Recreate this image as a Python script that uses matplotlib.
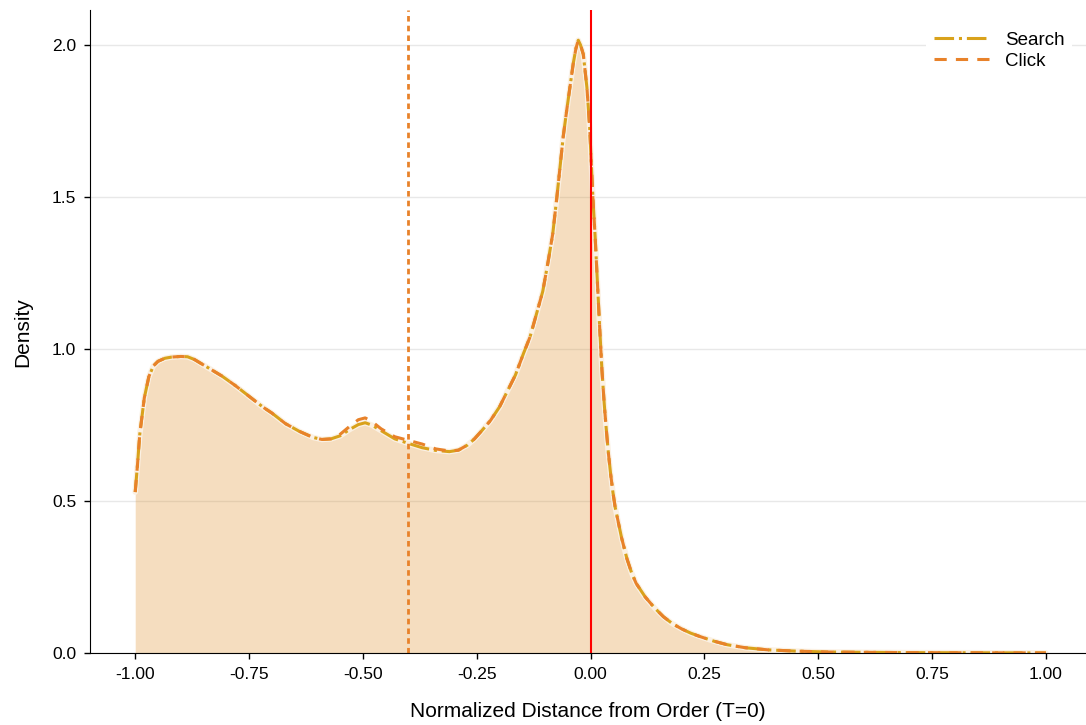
import numpy as np
import matplotlib.pyplot as plt

plt.rcParams['font.family'] = ['Liberation Sans', 'DejaVu Sans']

# normalized distance grid
dist = [-1.00, -0.995, -0.99, -0.98, -0.97, -0.96, -0.95, -0.935, -0.92, -0.90,
        -0.885, -0.87, -0.85, -0.83, -0.81, -0.78, -0.75, -0.72, -0.70, -0.67,
        -0.64, -0.61, -0.59, -0.57, -0.55, -0.53, -0.51, -0.495, -0.48, -0.46,
        -0.43, -0.40, -0.37, -0.34, -0.31, -0.29, -0.27, -0.255, -0.24, -0.22,
        -0.20, -0.185, -0.165, -0.147, -0.133, -0.118, -0.105, -0.093, -0.083, -0.074,
        -0.067, -0.060, -0.052, -0.045, -0.038, -0.032, -0.027, -0.022, -0.016, -0.008,
        -0.002, 0.005, 0.010, 0.015, 0.020, 0.025, 0.030, 0.034, 0.039, 0.044,
        0.049, 0.054, 0.061, 0.068, 0.08, 0.09, 0.10, 0.12, 0.14, 0.16,
        0.18, 0.20, 0.22, 0.24, 0.27, 0.30, 0.34, 0.39, 0.45, 0.52,
        0.60, 0.70, 0.85, 1.00]

search_density = [0.53, 0.62, 0.72, 0.84, 0.91, 0.945, 0.96, 0.97, 0.974, 0.976,
                  0.975, 0.966, 0.948, 0.93, 0.912, 0.88, 0.845, 0.81, 0.79, 0.755,
                  0.73, 0.71, 0.703, 0.705, 0.715, 0.735, 0.752, 0.758, 0.75, 0.732,
                  0.705, 0.69, 0.676, 0.667, 0.663, 0.668, 0.685, 0.705, 0.73, 0.765,
                  0.81, 0.855, 0.915, 0.987, 1.04, 1.12, 1.19, 1.29, 1.38, 1.50,
                  1.60, 1.70, 1.79, 1.865, 1.94, 1.99, 2.016, 2.00, 1.97, 1.86,
                  1.73, 1.50, 1.37, 1.22, 1.07, 0.93, 0.82, 0.745, 0.66, 0.59,
                  0.53, 0.48, 0.43, 0.38, 0.31, 0.265, 0.23, 0.185, 0.15, 0.12,
                  0.097, 0.08, 0.066, 0.055, 0.04, 0.028, 0.018, 0.011, 0.007, 0.004,
                  0.003, 0.002, 0.0015, 0.001]

click_density = [0.53, 0.62, 0.72, 0.84, 0.91, 0.945, 0.96, 0.97, 0.974, 0.976,
                 0.975, 0.966, 0.948, 0.93, 0.912, 0.88, 0.845, 0.81, 0.79, 0.755,
                 0.73, 0.71, 0.703, 0.705, 0.72, 0.745, 0.768, 0.774, 0.762, 0.738,
                 0.712, 0.70, 0.688, 0.672, 0.665, 0.668, 0.685, 0.705, 0.73, 0.765,
                 0.81, 0.855, 0.915, 0.987, 1.04, 1.12, 1.19, 1.29, 1.38, 1.50,
                 1.60, 1.70, 1.79, 1.865, 1.94, 1.99, 2.016, 2.00, 1.97, 1.86,
                 1.73, 1.50, 1.37, 1.22, 1.07, 0.93, 0.82, 0.745, 0.66, 0.59,
                 0.53, 0.48, 0.43, 0.38, 0.31, 0.265, 0.23, 0.185, 0.15, 0.12,
                 0.097, 0.08, 0.066, 0.055, 0.04, 0.028, 0.018, 0.011, 0.007, 0.004,
                 0.003, 0.002, 0.0015, 0.001]

search_mean = -0.40
order_time = 0.0

fig = plt.figure(figsize=(10.86, 7.25), dpi=100)
ax = fig.add_axes([0.083, 0.099, 0.917, 0.887])

ax.grid(axis='y', color='#e8e8e8', lw=1)
ax.set_axisbelow(True)

ax.fill_between(dist, search_density, color='#de912d', alpha=0.3, lw=0)
ax.plot(dist, search_density, color='#fbf1e4', lw=4, solid_capstyle='round')
ax.plot(dist, search_density, color='#d9a21b', lw=2.2, ls='-.', label='Search')
ax.plot(dist, click_density, color='#e8822a', lw=2.2, ls=(0, (4, 3)), label='Click')

ax.axvline(search_mean, color='#e8822a', lw=2, ls=(0, (2, 1.5)))
ax.axvline(order_time, color='#ff0000', lw=1.5)

ax.set_xlim(-1.099, 1.088)
ax.set_ylim(0, 2.115)
ax.set_xticks(np.arange(-1.0, 1.01, 0.25))
ax.set_xticklabels([f'{v:.2f}' for v in np.arange(-1.0, 1.01, 0.25)])
ax.set_yticks([0.0, 0.5, 1.0, 1.5, 2.0])
ax.set_yticklabels(['0.0', '0.5', '1.0', '1.5', '2.0'])
ax.tick_params(labelsize=12.5, length=4, width=1, pad=6)

for s in ['top', 'right']:
    ax.spines[s].set_visible(False)

ax.set_xlabel('Normalized Distance from Order (T=0)', fontsize=15, labelpad=14)
ax.set_ylabel('Density', fontsize=15, labelpad=14)

leg = ax.legend(loc='upper right', bbox_to_anchor=(0.99, 0.984), frameon=True,
                fontsize=13.5, handlelength=3.0, borderaxespad=0.2,
                labelspacing=0.2)
leg.get_frame().set_edgecolor('none')
leg.get_frame().set_facecolor('white')
leg.get_frame().set_alpha(1)

fig.savefig('out.png', dpi=100)
